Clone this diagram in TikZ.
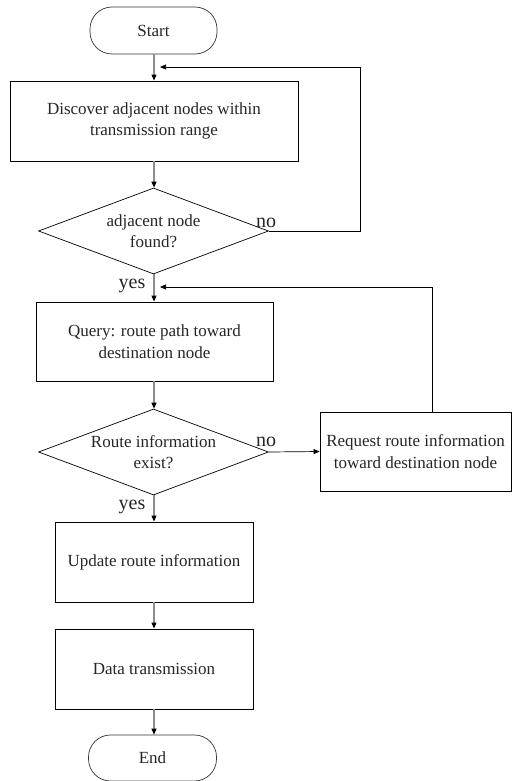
\documentclass[tikz,border=0pt]{standalone}
\usepackage{fontspec}
\setmainfont{Liberation Serif}
\usetikzlibrary{arrows.meta,shapes.geometric}
\begin{document}
\begin{tikzpicture}[x=1pt,y=-1pt,
  txt/.style={font=\fontsize{17}{21.5}\selectfont, align=center, text=black!85},
  procbox/.style={txt, draw=black, line width=0.9pt, rectangle, inner sep=0pt},
  termbox/.style={txt, draw=black!80, line width=0.7pt, rectangle, rounded corners=22pt, inner sep=0pt},
  decbox/.style={txt, draw=black, line width=0.7pt, diamond, inner sep=0pt},
  lbl/.style={font=\fontsize{20}{22}\selectfont, text=black!85},
  flow/.style={draw=black!45, line width=1.1pt, -{Triangle[length=6pt,width=5pt,color=black]}},
  loop/.style={draw=black, line width=0.7pt, -{Triangle[length=6pt,width=5pt,color=black]}}
]
\useasboundingbox (0,0) rectangle (512,781);
\fill[white] (0,0) rectangle (512,781);

\node[termbox, minimum width=127pt, minimum height=47pt] (start) at (153.5,30.5) {Start};
\node[procbox, minimum width=288pt, minimum height=80pt] (disc) at (154,121) {Discover adjacent nodes within\\transmission range};
\node[decbox, minimum width=230pt, minimum height=86pt] (d1) at (153.5,231) {};
\node[txt] (d1t) at (153.5,231) {adjacent node\\found?};
\node[procbox, minimum width=237pt, minimum height=79pt] (query) at (154.5,341.5) {Query: route path toward\\destination node};
\node[decbox, minimum width=230pt, minimum height=86pt] (d2) at (153.5,452) {};
\node[txt] (d2t) at (153.5,452) {Route information\\exist?};
\node[procbox, minimum width=191pt, minimum height=79pt] (req) at (415.5,451.5) {Request route information\\toward destination node};
\node[procbox, minimum width=198pt, minimum height=80pt] (upd) at (154,562) {Update route information};
\node[procbox, minimum width=198pt, minimum height=80pt] (data) at (154,669) {Data transmission};
\node[termbox, minimum width=128pt, minimum height=46pt] (end) at (152.5,758) {End};

\coordinate (l1a) at (360,231);
\coordinate (l1b) at (360,67);
\coordinate (l1c) at (160,67);
\coordinate (l2a) at (432,287);
\coordinate (l2c) at (160,287);

\draw[flow] (start.south -| 154,0) -- (disc.north -| 154,0);
\draw[flow] (disc.south -| 154,0) -- (d1.north -| 154,0);
\draw[flow] (d1.south -| 154,0) -- (query.north -| 154,0);
\draw[flow] (query.south -| 154,0) -- (d2.north -| 154,0);
\draw[flow] (d2.south -| 154,0) -- (upd.north -| 154,0);
\draw[flow] (upd.south -| 154,0) -- (data.north -| 154,0);
\draw[flow] (data.south -| 154,0) -- (end.north -| 154,0);

\draw[loop] (d1.east) -- (l1a) -- (l1b) -- (l1c);
\draw[loop] (d2.east) -- (req.west);
\draw[loop] (req.north -| l2a) -- (l2a) -- (l2c);

\node[lbl] (no1) at (266,223) {no};
\node[lbl] (no2) at (266,442) {no};
\node[lbl] (yes1) at (132,286) {yes};
\node[lbl] (yes2) at (132,507) {yes};
\end{tikzpicture}
\end{document}
